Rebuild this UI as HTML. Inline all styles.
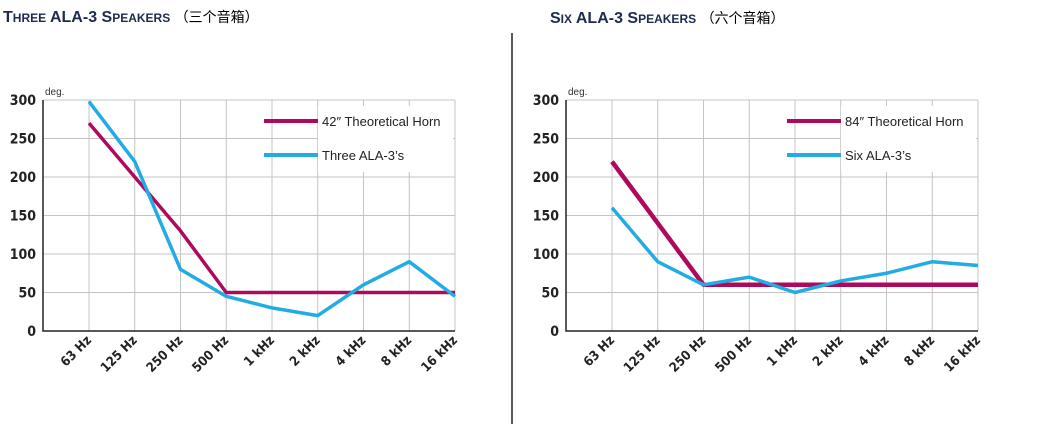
<!DOCTYPE html>
<html><head><meta charset="utf-8"><style>
body{margin:0;background:#fff;width:1037px;height:424px;overflow:hidden;font-family:"Liberation Sans","Noto Sans CJK SC",sans-serif}
</style></head><body>
<svg id="s" width="1037" height="424" xmlns="http://www.w3.org/2000/svg">
<line x1="512" y1="33" x2="512" y2="424" stroke="#222" stroke-width="1.5"/>
<text x="3" y="22" font-size="16" font-weight="bold" fill="#1d2b4c">T<tspan font-size="12">HREE</tspan> ALA-3 S<tspan font-size="12">PEAKERS</tspan> <tspan font-size="14" font-weight="normal" fill="#000">（三个音箱）</tspan></text>
<text x="550" y="23" font-size="16" font-weight="bold" fill="#1d2b4c">S<tspan font-size="12">IX</tspan> ALA-3 S<tspan font-size="12">PEAKERS</tspan> <tspan font-size="14" font-weight="normal" fill="#000">（六个音箱）</tspan></text>
</svg>
<script>
const categories=["63 Hz","125 Hz","250 Hz","500 Hz","1 kHz","2 kHz","4 kHz","8 kHz","16 kHz"];
const yTicks=[0,50,100,150,200,250,300];
const leftHorn=[270,200,130,50,50,50,50,50,50];
const leftAla=[298,220,80,45,30,20,60,90,45];
const rightHorn=[220,140,60,60,60,60,60,60,60];
const rightAla=[160,90,60,70,50,65,75,90,85];
const leftLegend=["42\u2033 Theoretical Horn","Three ALA-3\u2019s"];
const rightLegend=["84\u2033 Theoretical Horn","Six ALA-3\u2019s"];
const svg=document.getElementById('s');
const NS='http://www.w3.org/2000/svg';
function mk(t,a,p){const e=document.createElementNS(NS,t);for(const k in a)e.setAttribute(k,a[k]);(p||svg).appendChild(e);return e;}
function chart(axX,prefix,horn,ala,leg){
  const g=mk('g',{});
  
  
  const x0=axX+46,step=45.75,yb=331,yt=100;
  const xs=i=>x0+i*step, ys=v=>yb-(v/300)*(yb-yt);
  const right=xs(categories.length-1);
  yTicks.forEach(v=>{
    if(v>0){const l=mk('line',{x1:axX,x2:right,y1:ys(v),y2:ys(v),stroke:'#c4c4c4','stroke-width':1},g);
    
    }
    const t=mk('text',{x:axX-7,y:ys(v)+5,'text-anchor':'end','font-size':14,'font-weight':'bold',fill:'#222','font-family':'"DejaVu Sans Condensed","Liberation Sans Narrow","Liberation Sans",sans-serif'},g);
    t.textContent=v;
    
    
  });
  categories.forEach((c,i)=>{
    const l=mk('line',{x1:xs(i),x2:xs(i),y1:yt,y2:yb,stroke:'#c4c4c4','stroke-width':1},g);
    
    
    const t=mk('text',{x:xs(i)+3,y:yb+10,'text-anchor':'end','font-size':13,'font-weight':'bold',fill:'#222','font-family':'"DejaVu Sans Condensed","Liberation Sans Narrow","Liberation Sans",sans-serif',transform:`rotate(-45 ${xs(i)+3} ${yb+10})`},g);
    t.textContent=c;
    
    
  });
  // legend background
  const lx=axX+221;
  const bg=mk('rect',{x:lx+54,y:106,width:right-lx-56,height:66,fill:'#fff'},g);
  
  
  const ax=mk('path',{d:`M${axX} ${yt}V${yb}H${right}`,stroke:'#222','stroke-width':1.5,fill:'none'},g);
  
  
  const d=mk('text',{x:axX+2,y:95,'font-size':10,fill:'#333'},g);
  d.textContent='deg.';
  
  
  [[horn,'#ad0a5e'],[ala,'#22ace4']].forEach(([s,col],k)=>{
    const p=mk('polyline',{points:s.map((v,i)=>xs(i)+','+ys(v)).join(' '),fill:'none',stroke:col,'stroke-width':k==0&&prefix=='right'?4.5:3.5,'stroke-linejoin':'round'},g);
    
    
    const ly=121+k*34;
    const ll=mk('line',{x1:lx,x2:lx+54,y1:ly,y2:ly,stroke:col,'stroke-width':4},g);
    
    
    const lt=mk('text',{x:lx+58,y:ly+5,'font-size':13,fill:'#222'},g);
    lt.textContent=leg[k];
    
    
  });
}
chart(43,'left',leftHorn,leftAla,leftLegend);
chart(566,'right',rightHorn,rightAla,rightLegend);
</script>
</body></html>
